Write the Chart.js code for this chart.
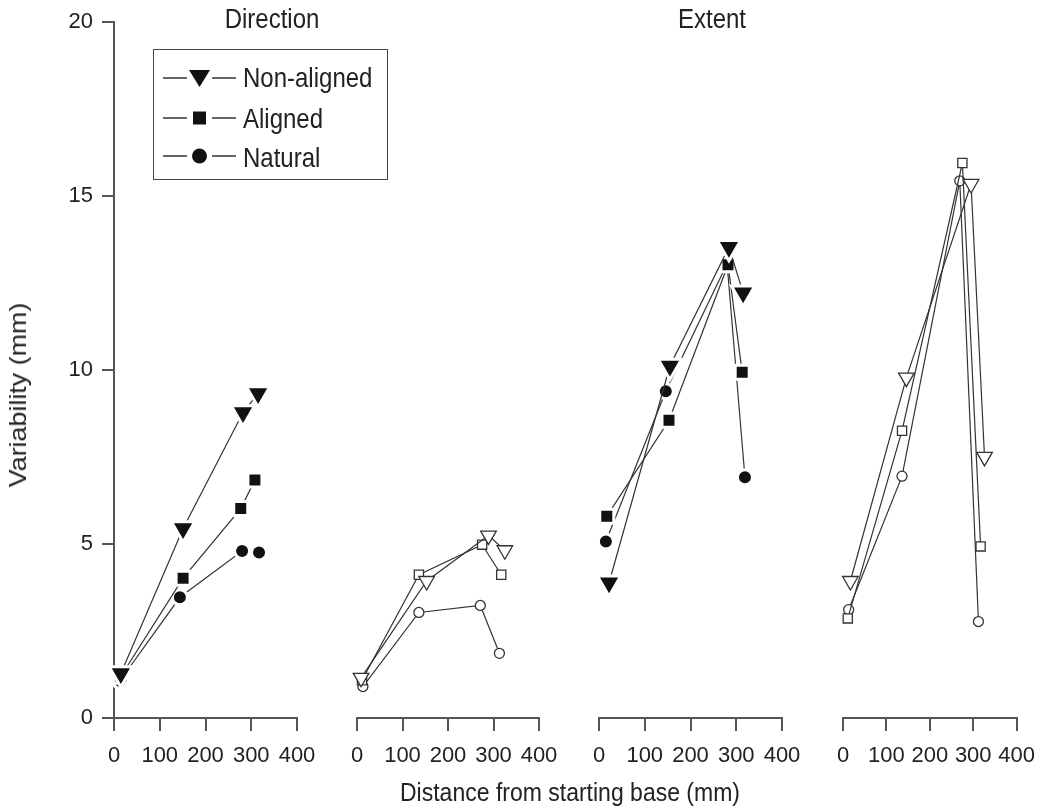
<!DOCTYPE html>
<html><head><meta charset="utf-8">
<script src="https://cdn.jsdelivr.net/npm/chart.js@4.4.1/dist/chart.umd.min.js"></script>
<style>
html,body{margin:0;padding:0;background:#fff;}
#wrap{position:relative;width:1047px;height:812px;overflow:hidden;font-family:"Liberation Sans",Arial,Helvetica,sans-serif;color:#222;}
canvas{position:absolute;left:0;top:0;}
.t{position:absolute;white-space:nowrap;line-height:1;}
#legend{position:absolute;left:153px;top:49px;width:235px;height:131px;border:1.5px solid #444;box-sizing:border-box;}
</style></head><body>
<div id="wrap">
<canvas id="c1" width="1047" height="812"></canvas>
<canvas id="c2" width="1047" height="812"></canvas>
<canvas id="c3" width="1047" height="812"></canvas>
<canvas id="c4" width="1047" height="812"></canvas>
<div id="legend"></div>
<div id="texts"></div>
</div>
<script>
// ---- data ----
const seriesNames = ['Non-aligned', 'Aligned', 'Natural'];
const panelTitles = ['Direction', 'Extent'];
const xTitle = 'Distance from starting base (mm)';
const yTitle = 'Variability (mm)';
const xTicks = [0, 100, 200, 300, 400];
const yTicks = [0, 5, 10, 15, 20];

// Panel 1: Direction, filled markers
const p1NonAlignedX = [15, 151, 282, 315];
const p1NonAlignedY = [1.28, 5.45, 8.78, 9.33];
const p1AlignedX = [15, 151, 277, 308];
const p1AlignedY = [1.2, 4.02, 6.02, 6.84];
const p1NaturalX = [13, 144, 280, 317];
const p1NaturalY = [1.07, 3.47, 4.8, 4.76];

// Panel 2: Direction, open markers
const p2NonAlignedX = [9, 153, 289, 325];
const p2NonAlignedY = [1.15, 3.92, 5.22, 4.8];
const p2AlignedX = [11, 136, 275, 317];
const p2AlignedY = [1.08, 4.1, 4.96, 4.1];
const p2NaturalX = [13, 136, 271, 313];
const p2NaturalY = [0.9, 3.02, 3.22, 1.85];

// Panel 3: Extent, filled markers
const p3NonAlignedX = [22, 155, 284, 315];
const p3NonAlignedY = [3.87, 10.07, 13.47, 12.17];
const p3AlignedX = [17, 153, 282, 313];
const p3AlignedY = [5.77, 8.52, 12.97, 9.89];
const p3NaturalX = [15, 146, 280, 319];
const p3NaturalY = [5.05, 9.35, 13.0, 6.89];

// Panel 4: Extent, open markers
const p4NonAlignedX = [17, 146, 295, 326];
const p4NonAlignedY = [3.92, 9.74, 15.28, 7.47];
const p4AlignedX = [11, 136, 275, 317];
const p4AlignedY = [2.85, 8.22, 15.88, 4.91];
const p4NaturalX = [13, 136, 269, 312];
const p4NaturalY = [3.1, 6.92, 15.37, 2.76];

// ---- styling ----
const FONT = '"Liberation Sans", Arial, Helvetica, sans-serif';
const AXIS = '#555';
const LINE = '#333';
const MARK = '#111';
const pointShapes = ['triangle', 'rect', 'circle'];
const pointRot = [180, 0, 0];
const filledRadius = [13.5, 9.9, 7.5];
const openRadius = [9, 6.5, 5];

function pts(xs, ys) { return xs.map((x, i) => ({ x: x, y: ys[i] })); }

function makeDatasets(list, filled) {
  return list.map((s, i) => ({
    label: seriesNames[i],
    data: pts(s[0], s[1]),
    borderColor: LINE,
    borderWidth: 1.2,
    tension: 0,
    fill: false,
    clip: false,
    pointStyle: pointShapes[i],
    rotation: pointRot[i],
    pointRadius: filled ? filledRadius[i] : openRadius[i],
    pointBackgroundColor: filled ? MARK : '#fff',
    pointBorderColor: filled ? '#fff' : LINE,
    pointBorderWidth: filled ? 3 : 1.3,
    pointHoverRadius: filled ? filledRadius[i] : openRadius[i]
  }));
}

function makeChart(id, datasets, showY, padL, padR) {
  return new Chart(document.getElementById(id), {
    type: 'line',
    data: { datasets: datasets },
    options: {
      responsive: false, animation: false, events: [],
      layout: { autoPadding: false, padding: { left: padL, right: padR, top: 19, bottom: 0 } },
      plugins: { legend: { display: false }, tooltip: { enabled: false }, title: { display: false } },
      scales: {
        x: {
          type: 'linear', min: 0, max: 400,
          afterBuildTicks: ax => { ax.ticks = xTicks.map(v => ({ value: v })); },
          afterFit: ax => { ax.height = 94; },
          grid: { drawOnChartArea: false, drawTicks: true, tickLength: 13, color: AXIS, lineWidth: 2 },
          border: { display: true, color: AXIS, width: 2 },
          ticks: { autoSkip: false, maxRotation: 0, minRotation: 0, padding: 12, color: '#222', font: { family: FONT, size: 22 } }
        },
        y: {
          type: 'linear', min: 0, max: 20, display: showY,
          afterBuildTicks: ax => { ax.ticks = yTicks.map(v => ({ value: v })); },
          afterFit: ax => { ax.width = showY ? 114 : 0; },
          grid: { drawOnChartArea: false, drawTicks: true, tickLength: 12, color: AXIS, lineWidth: 2 },
          border: { display: true, color: AXIS, width: 2 },
          ticks: { padding: 9, color: '#222', font: { family: FONT, size: 22 } }
        }
      }
    }
  });
}

makeChart('c1', makeDatasets([[p1NonAlignedX, p1NonAlignedY], [p1AlignedX, p1AlignedY], [p1NaturalX, p1NaturalY]], true), true, 0, 1047 - 297);
makeChart('c2', makeDatasets([[p2NonAlignedX, p2NonAlignedY], [p2AlignedX, p2AlignedY], [p2NaturalX, p2NaturalY]], false), false, 357, 1047 - 539);
makeChart('c3', makeDatasets([[p3NonAlignedX, p3NonAlignedY], [p3AlignedX, p3AlignedY], [p3NaturalX, p3NaturalY]], true), false, 599, 1047 - 782);
makeChart('c4', makeDatasets([[p4NonAlignedX, p4NonAlignedY], [p4AlignedX, p4AlignedY], [p4NaturalX, p4NaturalY]], false), false, 843, 1047 - 1026);

// ---- texts ----
const texts = document.getElementById('texts');
function addText(str, cx, cy, size, transform) {
  const d = document.createElement('div');
  d.className = 't';
  d.textContent = str;
  d.style.left = cx + 'px';
  d.style.top = cy + 'px';
  d.style.fontSize = size + 'px';
  d.style.transform = 'translate(-50%,-50%) ' + (transform || '');
  texts.appendChild(d);
}
addText(panelTitles[0], 272, 19, 24, 'scaleY(1.12)');
addText(panelTitles[1], 712, 19, 24, 'scaleY(1.12)');
addText(xTitle, 570, 793, 23, 'scaleY(1.12)');
addText(yTitle, 18, 395, 24, 'rotate(-90deg) scaleX(1.12)');

// ---- legend ----
const legend = document.getElementById('legend');
const rowY = [28, 68, 106];
const textY = [28, 69, 108];
const icons = [
  '<polygon points="29,4 50,4 39.5,21" fill="#111"/>',
  '<rect x="33" y="5.5" width="13" height="13" fill="#111"/>',
  '<circle cx="39.5" cy="12" r="7.5" fill="#111"/>'
];
seriesNames.forEach((name, i) => {
  const svg = '<svg width="80" height="24" style="position:absolute;left:6px;top:' + (rowY[i] - 12) + 'px">' +
    '<line x1="3" y1="12" x2="27" y2="12" stroke="#333" stroke-width="1.5"/>' +
    '<line x1="52" y1="12" x2="76" y2="12" stroke="#333" stroke-width="1.5"/>' + icons[i] + '</svg>';
  legend.insertAdjacentHTML('beforeend', svg);
  const t = document.createElement('div');
  t.className = 't';
  t.textContent = name;
  t.style.left = '89px';
  t.style.top = textY[i] + 'px';
  t.style.fontSize = '24px';
  t.style.transform = 'translateY(-50%) scaleY(1.12)';
  legend.appendChild(t);
});
</script>
</body></html>
